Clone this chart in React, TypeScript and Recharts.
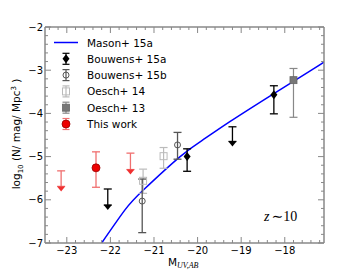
import { ComposedChart, Line, Scatter, ErrorBar, XAxis, YAxis } from 'recharts';

const X_DOMAIN = [-23.5, -17.1];
const Y_DOMAIN = [-7, -2];
const SPINE = '#888888';
const FONT = '"DejaVu Sans", sans-serif';
const SERIF = '"Liberation Serif", "DejaVu Serif", serif';

// tick labels
const X_TICKS: number[] = [];
for (let i = -234; i <= -172; i += 2) X_TICKS.push(i / 10);
const Y_TICKS: number[] = [];
for (let i = -70; i <= -20; i += 2) Y_TICKS.push(i / 10);

// Mason+ 15a model curve
const masonX = [-22.2, -21.67, -21.25, -20.4, -19.83, -19.26, -18.25, -17.38, -17.1];
const masonY = [-7.0, -6.24, -5.78, -5.0, -4.58, -4.19, -3.54, -2.99, -2.81];

// Bouwens+ 15a (detections)
const b15aX = [-20.24, -18.25];
const b15aY = [-5.0, -3.57];
const b15aLo = [-5.34, -4.01];
const b15aHi = [-4.82, -3.36];
// Bouwens+ 15a (upper limits): cap value and arrow-head base
const b15aLimX = [-22.06, -19.2];
const b15aLimCap = [-5.75, -4.31];
const b15aLimBase = [-6.12, -4.65];

// Bouwens+ 15b
const b15bX = [-21.27, -20.46];
const b15bY = [-6.03, -4.73];
const b15bLo = [-6.76, -5.06];
const b15bHi = [-5.52, -4.44];

// Oesch+ 14
const o14X = [-21.25, -20.78];
const o14Y = [-5.56, -4.99];
const o14Lo = [-5.85, -5.27];
const o14Hi = [-5.29, -4.79];

// Oesch+ 13
const o13X = [-17.8];
const o13Y = [-3.23];
const o13Lo = [-4.09];
const o13Hi = [-2.96];

// This work
const twX = [-22.33];
const twY = [-5.26];
const twLo = [-5.71];
const twHi = [-4.89];
const twLimX = [-23.13, -21.54];
const twLimCap = [-5.33, -4.92];
const twLimBase = [-5.69, -5.3];

const mason = masonX.map((x, i) => ({ x, y: masonY[i] }));
const points = (xs: number[], ys: number[], lo: number[], hi: number[]) =>
  xs.map((x, i) => ({ x, y: ys[i], err: [ys[i] - lo[i], hi[i] - ys[i]] }));
const limits = (xs: number[], cap: number[], base: number[]) =>
  xs.map((x, i) => ({ x, y: base[i], err: [0, cap[i] - base[i]] }));

const fmt = (v: number) => String(v).replace('-', '\u2212');
const isMajor = (v: number) => Math.abs(v - Math.round(v)) < 1e-6;

const XTick = (props: any) => {
  const { x, y, payload, top } = props;
  const v = payload.value;
  const len = isMajor(v) ? 6 : 3;
  return (
    <g>
      <line x1={x} x2={x} y1={y} y2={top ? y + len : y - len} stroke={SPINE} strokeWidth={1} />
      {!top && isMajor(v) && (
        <text x={x} y={y + 11} textAnchor="middle" fontSize={10} fontFamily={FONT} fill="#000">
          {fmt(v)}
        </text>
      )}
    </g>
  );
};

const YTick = (props: any) => {
  const { x, y, payload, right } = props;
  const v = payload.value;
  const len = isMajor(v) ? 6 : 3;
  return (
    <g>
      <line x1={x} x2={right ? x - len : x + len} y1={y} y2={y} stroke={SPINE} strokeWidth={1} />
      {!right && isMajor(v) && (
        <text x={x - 2} y={y + 3.5} textAnchor="end" fontSize={10} fontFamily={FONT} fill="#000">
          {fmt(v)}
        </text>
      )}
    </g>
  );
};

const Diamond = ({ cx, cy }: any) => (
  <polygon points={`${cx},${cy - 4.5} ${cx + 3.5},${cy} ${cx},${cy + 4.5} ${cx - 3.5},${cy}`} fill="#000" />
);
const OpenCircle = ({ cx, cy }: any) => <circle cx={cx} cy={cy} r={3} fill="none" stroke="#555" strokeWidth={1} />;
const OpenSquare = ({ cx, cy }: any) => (
  <rect x={cx - 3.5} y={cy - 3.5} width={7} height={7} fill="none" stroke="#bbb" strokeWidth={1} />
);
const GraySquare = ({ cx, cy }: any) => (
  <rect x={cx - 3.5} y={cy - 3.5} width={7} height={7} fill="#777" stroke="#666" strokeWidth={0.8} />
);
const RedDot = ({ cx, cy }: any) => <circle cx={cx} cy={cy} r={4} fill="#ee0000" stroke="#990000" strokeWidth={0.8} />;
const arrowHead = (color: string) => ({ cx, cy }: any) => (
  <polygon points={`${cx - 4},${cy} ${cx + 4},${cy} ${cx},${cy + 5}`} fill={color} />
);

const LEGEND = ['Mason+ 15a', 'Bouwens+ 15a', 'Bouwens+ 15b', 'Oesch+ 14', 'Oesch+ 13', 'This work'];

const LegendMark = ({ i, cy }: { i: number; cy: number }) => {
  const cx = 66;
  if (i === 0) return <line x1={54} x2={78} y1={cy} y2={cy} stroke="#0000ff" strokeWidth={1.5} />;
  const bar = ['#000', '#555', '#bbb', '#888', '#f07070'][i - 1];
  const mark = [
    <Diamond cx={cx} cy={cy} />,
    <OpenCircle cx={cx} cy={cy} />,
    <OpenSquare cx={cx} cy={cy} />,
    <GraySquare cx={cx} cy={cy} />,
    <RedDot cx={cx} cy={cy} />,
  ][i - 1];
  return (
    <g>
      <line x1={cx} x2={cx} y1={cy - 5.5} y2={cy + 5.5} stroke={bar} strokeWidth={1.2} />
      <line x1={cx - 3.5} x2={cx + 3.5} y1={cy - 5.5} y2={cy - 5.5} stroke={bar} strokeWidth={1.2} />
      <line x1={cx - 3.5} x2={cx + 3.5} y1={cy + 5.5} y2={cy + 5.5} stroke={bar} strokeWidth={1.2} />
      {mark}
    </g>
  );
};

export default function App() {
  return (
    <div style={{ position: 'absolute', left: 0, top: 0, width: 360, height: 270, background: '#fff' }}>
      <ComposedChart width={360} height={270} margin={{ top: 26, right: 35, bottom: 0, left: 0 }}>
        <XAxis
          xAxisId={0}
          dataKey="x"
          type="number"
          domain={X_DOMAIN}
          ticks={X_TICKS}
          interval={0}
          height={27}
          tickSize={0}
          tickMargin={0}
          tickLine={false}
          axisLine={{ stroke: SPINE, strokeWidth: 1.5 }}
          tick={<XTick />}
          allowDataOverflow
        />
        <XAxis
          xAxisId="top"
          orientation="top"
          dataKey="x"
          type="number"
          domain={X_DOMAIN}
          ticks={X_TICKS}
          interval={0}
          height={1}
          tickSize={0}
          tickMargin={0}
          tickLine={false}
          axisLine={{ stroke: SPINE, strokeWidth: 1.5 }}
          tick={<XTick top />}
          allowDataOverflow
        />
        <YAxis
          yAxisId={0}
          dataKey="y"
          type="number"
          domain={Y_DOMAIN}
          ticks={Y_TICKS}
          interval={0}
          width={45}
          tickSize={0}
          tickMargin={0}
          tickLine={false}
          axisLine={{ stroke: SPINE, strokeWidth: 1.5 }}
          tick={<YTick />}
          allowDataOverflow
        />
        <YAxis
          yAxisId="right"
          orientation="right"
          dataKey="y"
          type="number"
          domain={Y_DOMAIN}
          ticks={Y_TICKS}
          interval={0}
          width={1}
          tickSize={0}
          tickMargin={0}
          tickLine={false}
          axisLine={{ stroke: SPINE, strokeWidth: 1.5 }}
          tick={<YTick right />}
          allowDataOverflow
        />
        <Line
          data={mason}
          dataKey="y"
          type="natural"
          stroke="#0000ff"
          strokeWidth={1.5}
          dot={false}
          isAnimationActive={false}
        />
        <Scatter data={points(o14X, o14Y, o14Lo, o14Hi)} dataKey="y" shape={<OpenSquare />} isAnimationActive={false}>
          <ErrorBar dataKey="err" direction="y" width={4} stroke="#bbb" strokeWidth={1.2} />
        </Scatter>
        <Scatter data={points(b15bX, b15bY, b15bLo, b15bHi)} dataKey="y" shape={<OpenCircle />} isAnimationActive={false}>
          <ErrorBar dataKey="err" direction="y" width={4} stroke="#555" strokeWidth={1.3} />
        </Scatter>
        <Scatter data={points(o13X, o13Y, o13Lo, o13Hi)} dataKey="y" shape={<GraySquare />} isAnimationActive={false}>
          <ErrorBar dataKey="err" direction="y" width={4} stroke="#888" strokeWidth={1.2} />
        </Scatter>
        <Scatter data={points(b15aX, b15aY, b15aLo, b15aHi)} dataKey="y" shape={<Diamond />} isAnimationActive={false}>
          <ErrorBar dataKey="err" direction="y" width={4} stroke="#000" strokeWidth={1.3} />
        </Scatter>
        <Scatter data={limits(b15aLimX, b15aLimCap, b15aLimBase)} dataKey="y" shape={arrowHead('#000')} isAnimationActive={false}>
          <ErrorBar dataKey="err" direction="y" width={4} stroke="#000" strokeWidth={1.3} />
        </Scatter>
        <Scatter data={points(twX, twY, twLo, twHi)} dataKey="y" shape={<RedDot />} isAnimationActive={false}>
          <ErrorBar dataKey="err" direction="y" width={4} stroke="#f07070" strokeWidth={1.3} />
        </Scatter>
        <Scatter data={limits(twLimX, twLimCap, twLimBase)} dataKey="y" shape={arrowHead('#f03030')} isAnimationActive={false}>
          <ErrorBar dataKey="err" direction="y" width={4} stroke="#f07070" strokeWidth={1.3} />
        </Scatter>
      </ComposedChart>
      <svg width={360} height={270} style={{ position: 'absolute', left: 0, top: 0, pointerEvents: 'none' }}>
        {LEGEND.map((t, i) => {
          const cy = 42.5 + i * 16.3;
          return (
            <g key={t}>
              <LegendMark i={i} cy={cy} />
              <text x={87} y={cy + 4} fontSize={10.5} fontFamily={FONT} fill="#000">
                {t}
              </text>
            </g>
          );
        })}
        <text x={264} y={221} fontSize={14} fontFamily={SERIF} fill="#000">
          <tspan fontStyle="italic">z</tspan>
          <tspan dx={2}>{'\u223c'}</tspan>
          <tspan>10</tspan>
        </text>
        <text x={168} y={266} fontSize={10.5} fontFamily={FONT} fill="#000">
          M
          <tspan fontFamily={SERIF} fontStyle="italic" fontSize={8} dy={2}>
            UV,AB
          </tspan>
        </text>
        <text transform="translate(20,134) rotate(-90)" textAnchor="middle" fontSize={10.5} fontFamily={FONT} fill="#000">
          log
          <tspan fontSize={7} dy={2.5}>10</tspan>
          <tspan dy={-2.5}> (N/ mag/ Mpc</tspan>
          <tspan fontSize={7} dy={-4}>3</tspan>
          <tspan dy={4}> )</tspan>
        </text>
      </svg>
    </div>
  );
}
